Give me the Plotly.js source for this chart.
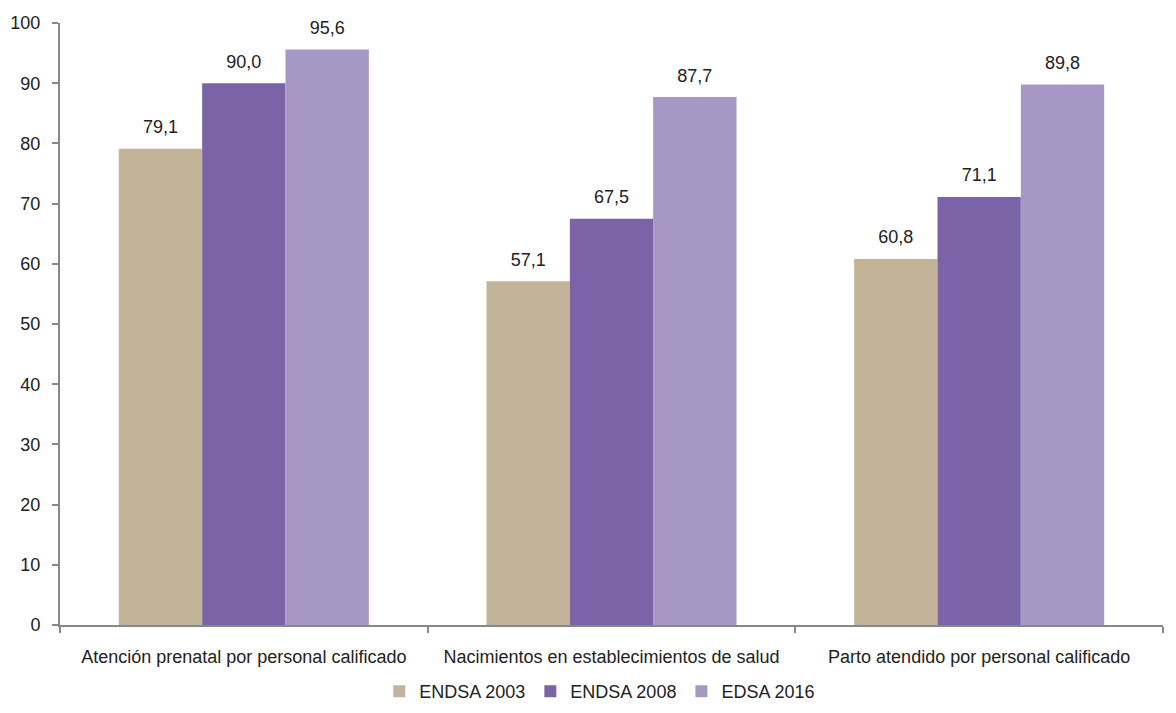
<!DOCTYPE html>
<html>
<head>
<meta charset="utf-8">
<script src="https://cdn.plot.ly/plotly-3.0.1.min.js"></script>
<style>html,body{margin:0;padding:0;background:#fff;}#chart{width:1176px;height:713px;}</style>
</head>
<body>
<div id="chart"></div>
<script>
const categories = ["Atención prenatal por personal calificado", "Nacimientos en establecimientos de salud", "Parto atendido por personal calificado"];
const seriesNames = ["ENDSA 2003", "ENDSA 2008", "EDSA 2016"];
const endsa2003 = [79.1, 57.1, 60.8];
const endsa2008 = [90.0, 67.5, 71.1];
const edsa2016 = [95.6, 87.7, 89.8];
const yTicks = [0, 10, 20, 30, 40, 50, 60, 70, 80, 90, 100];

const colors = ["#c3b498", "#7a64a7", "#a797c5"];
const fmt = v => v.toFixed(1).replace('.', ',');
const allSeries = [endsa2003, endsa2008, edsa2016];
const FONT = 'Liberation Sans, Arial, sans-serif';

const barTraces = allSeries.map((vals, i) => ({
  type: 'bar',
  name: seriesNames[i],
  x: categories,
  y: vals,
  offsetgroup: String(i),
  marker: {color: colors[i], line: {width: 0}},
  hoverinfo: 'none'
}));

const labelTraces = allSeries.map((vals, i) => ({
  type: 'scatter',
  mode: 'markers+text',
  x: categories,
  y: vals,
  offsetgroup: String(i),
  text: vals.map(fmt),
  textposition: 'top center',
  textfont: {family: FONT, size: 18, color: '#222'},
  marker: {size: 16, opacity: 0},
  cliponaxis: false,
  showlegend: false,
  hoverinfo: 'none'
}));

const layout = {
  width: 1176, height: 713,
  margin: {l: 60, r: 13, t: 23, b: 88},
  paper_bgcolor: '#fff', plot_bgcolor: '#fff',
  barmode: 'group',
  scattermode: 'group',
  bargap: 0.32,
  bargroupgap: 0,
  font: {family: FONT, size: 18, color: '#222'},
  xaxis: {
    type: 'category',
    showline: true, linecolor: '#888', linewidth: 2,
    ticks: 'outside', tickson: 'boundaries', ticklen: 6, tickcolor: '#888', tickwidth: 2,
    showgrid: false, zeroline: false,
    ticklabelstandoff: 14,
    tickfont: {size: 18, color: '#222'},
    automargin: false
  },
  yaxis: {
    range: [0, 100],
    tickvals: yTicks,
    ticktext: yTicks.map(String),
    showline: true, linecolor: '#888', linewidth: 2,
    ticks: 'outside', ticklen: 6, tickcolor: '#888', tickwidth: 2,
    showgrid: false, zeroline: false,
    ticklabelstandoff: 8,
    tickfont: {size: 18, color: '#222'},
    automargin: false
  },
  showlegend: true,
  legend: {
    orientation: 'h', xref: 'container', yref: 'container',
    x: 0.51, xanchor: 'center', y: 0.03, yanchor: 'middle',
    font: {size: 18, color: '#222'}, itemwidth: 30, traceorder: 'normal'
  }
};

Plotly.newPlot('chart', barTraces.concat(labelTraces), layout, {displayModeBar: false, staticPlot: true});
</script>
</body>
</html>
